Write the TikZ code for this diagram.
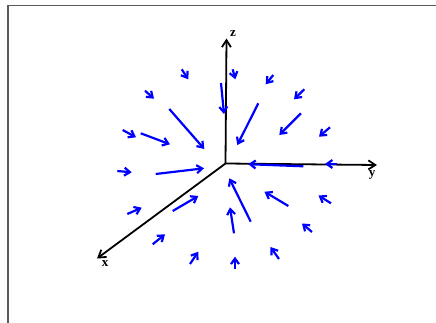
\documentclass[tikz,border=0pt]{standalone}
\usepackage{fontspec}
\setmainfont{Liberation Serif}
\usetikzlibrary{arrows.meta}
\tikzset{
  field/.style={draw=blue, line width=2.2pt, -{Straight Barb[length=5.5pt,width=8pt]}},
  axis/.style={draw=black, line width=1.8pt, -{Straight Barb[length=7pt,width=9pt]}},
  axislabel/.style={font=\bfseries\fontsize{13}{13}\selectfont, inner sep=0pt},
}
\begin{document}
\begin{tikzpicture}[x=1pt,y=-1pt]
    \useasboundingbox (0,0) rectangle (436,323);
    \draw[gray!70!black, line width=1.2pt] (8,323) -- (8,5.5) -- (436,5.5);
    % axes
    \coordinate (O) at (225.5,163.5);
    \coordinate (xend) at (97,258.5);
    \coordinate (yend) at (377,165);
    \coordinate (zend) at (226.5,38.5);
    \draw[axis] (O) -- (xend);
    \draw[axis] (O) -- (yend);
    \draw[axis] (O) -- (zend);
    \node (xlab) [axislabel] at (105,264) {x};
    \node (ylab) [axislabel] at (372,175) {y};
    \node (zlab) [axislabel] at (233,33.5) {z};
    % field arrows
    \draw[field] (181.7,69.3) -- (188.3,79.3);
    \draw[field] (145,90.7) -- (154,98.7);
    \draw[field] (169.3,109) -- (204.3,149);
    \draw[field] (122.7,130) -- (136,137.3);
    \draw[field] (140.7,133.3) -- (170,144.3);
    \draw[field] (221,83) -- (224,114);
    \draw[field] (232.7,69.3) -- (235.3,79.3);
    \draw[field] (273.3,75) -- (265.7,84.3);
    \draw[field] (304.3,89.3) -- (294,99.3);
    \draw[field] (258.3,103.3) -- (237.3,145);
    \draw[field] (301,113.3) -- (279.3,135);
    \draw[field] (330,127.3) -- (319,136.7);
    \draw[field] (303.3,166.3) -- (248.3,164.2);
    \draw[field] (337.3,164) -- (325,164);
    \draw[field] (250.7,221.7) -- (229.3,178.3);
    \draw[field] (288.3,206) -- (264.5,191.7);
    \draw[field] (331,203.3) -- (318.5,195.5);
    \draw[field] (234,233.3) -- (230,207.3);
    \draw[field] (312,232) -- (302,223.5);
    \draw[field] (279,259) -- (270.5,247);
    \draw[field] (235,269.3) -- (235,256.7);
    \draw[field] (117.3,171) -- (131.7,172.3);
    \draw[field] (155.7,174) -- (204,168.3);
    \draw[field] (127.3,214) -- (141.7,207.7);
    \draw[field] (172.7,211) -- (198.3,196);
    \draw[field] (152.7,244.3) -- (165,234.3);
    \draw[field] (190,264) -- (198.3,251.7);
\end{tikzpicture}
\end{document}
